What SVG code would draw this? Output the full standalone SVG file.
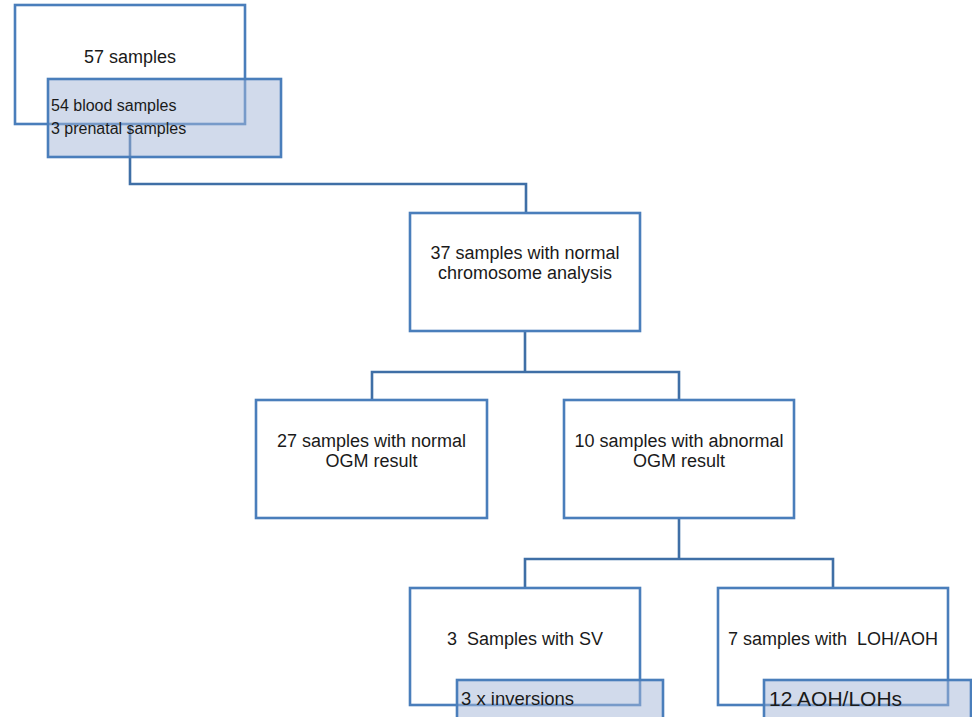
<svg xmlns="http://www.w3.org/2000/svg" width="972" height="717" viewBox="0 0 972 717">
  <style>
    .box { fill: #ffffff; stroke: #4a7ebb; stroke-width: 2.6; }
    .note { fill: #a3b6d8; fill-opacity: 0.5; stroke: #4a7ebb; stroke-width: 2.6; }
    .link { fill: none; stroke: #3f6fa6; stroke-width: 2.6; }
    text { font-family: "Liberation Sans", Arial, sans-serif; fill: #1a1a1a; white-space: pre; }
    .t { font-size: 18px; text-anchor: middle; }
    .s { font-size: 16px; }
    .m { font-size: 18.5px; }
    .l { font-size: 21px; }
  </style>

  <!-- connectors -->
  <g id="connectors">
    <polyline class="link" points="130,124 130,184 526,184 526,213"/>
    <polyline class="link" points="525,331 525,372"/>
    <polyline class="link" points="372,400 372,372 679,372 679,400"/>
    <polyline class="link" points="679,518 679,559"/>
    <polyline class="link" points="525,588 525,559 833,559 833,588"/>
  </g>

  <g id="all-samples">
    <rect class="box" x="15" y="5" width="230" height="119"/>
    <text class="t" x="130" y="63" font-size="18.5">57 samples</text>
  </g>
  <g id="sample-types">
    <rect class="note" x="48" y="79" width="233" height="78"/>
    <text class="s" x="51" y="111">54 blood samples</text>
    <text class="s" x="51" y="134">3 prenatal samples</text>
  </g>

  <g id="normal-chromosome">
    <rect class="box" x="410" y="213" width="230" height="118"/>
    <text class="t" x="525" y="259">37 samples with normal</text>
    <text class="t" x="525" y="279">chromosome analysis</text>
  </g>

  <g id="normal-ogm">
    <rect class="box" x="256" y="400" width="231" height="118"/>
    <text class="t" x="371.5" y="447">27 samples with normal</text>
    <text class="t" x="371.5" y="467">OGM result</text>
  </g>

  <g id="abnormal-ogm">
    <rect class="box" x="564" y="400" width="230" height="118"/>
    <text class="t" x="679" y="447">10 samples with abnormal</text>
    <text class="t" x="679" y="467">OGM result</text>
  </g>

  <g id="sv">
    <rect class="box" x="410" y="588" width="230" height="117"/>
    <text class="t" x="525" y="645" font-size="18.5">3  Samples with SV</text>
  </g>
  <g id="sv-detail">
    <rect class="note" x="457" y="680" width="206" height="50"/>
    <text class="m" x="461" y="705">3 x inversions</text>
  </g>

  <g id="loh">
    <rect class="box" x="718" y="588" width="230" height="117"/>
    <text class="t" x="833" y="645" font-size="18.5">7 samples with  LOH/AOH</text>
  </g>
  <g id="loh-detail">
    <rect class="note" x="764" y="680" width="207" height="50"/>
    <text class="l" x="769" y="706">12 AOH/LOHs</text>
  </g>
</svg>
